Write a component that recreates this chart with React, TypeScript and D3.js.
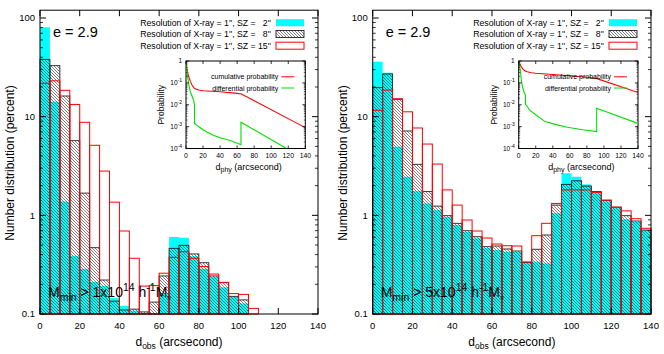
import React from "react";
import * as d3 from "d3";

const W = 664;
const H = 354;
const FONT = "'Liberation Sans', Arial, Helvetica, sans-serif";

// left edge of each 5 arcsec bin
const binStarts = [0, 5, 10, 15, 20, 25, 30, 35, 40, 45, 50, 55, 60, 65, 70, 75, 80, 85, 90, 95, 100, 105, 110, 115, 120, 125, 130, 135];

// M_min > 1e14 (left panel), percent per bin
const lowSZ2 = [80.5, 14.2, 1.38, 0.387, 0.286, 0.211, 0.192, 0.145, 0.121, 0.108, 0, 0, 0.163, 0.603, 0.593, 0.385, 0.288, 0.237, 0.186, 0.15, 0.128];
const lowSZ8 = [38.1, 32.9, 16.2, 5.71, 1.68, 0.47, 0.221, 0.135, 0.11, 0.112, 0.105, 0.132, 0.243, 0.463, 0.497, 0.406, 0.331, 0.243, 0.209, 0.151, 0.139];
const lowSZ15 = [21.8, 23.1, 18.5, 13.3, 8.77, 5.13, 2.81, 1.36, 0.694, 0.367, 0.192, 0.194, 0.259, 0.375, 0.428, 0.367, 0.303, 0.254, 0.209, 0.161, 0.158, 0.114];

// M_min > 5e14 (right panel)
const highSZ2 = [36.1, 27.9, 4.96, 2.46, 1.76, 1.32, 1.13, 0.962, 0.798, 0.678, 0.585, 0.467, 0.445, 0.428, 0.425, 0.333, 0.339, 0.326, 1.05, 2.67, 2.46, 2.06, 1.67, 1.38, 1.18, 0.912, 0.856, 0.71];
const highSZ8 = [19.7, 27.1, 15.0, 7.16, 3.29, 1.74, 1.24, 0.992, 0.83, 0.698, 0.607, 0.481, 0.489, 0.456, 0.435, 0.334, 0.453, 0.632, 1.27, 2.06, 2.24, 1.98, 1.74, 1.41, 1.21, 0.992, 0.876, 0.71];
const highSZ15 = [11.6, 18.6, 15.2, 11.2, 7.68, 5.28, 3.31, 1.81, 1.27, 0.897, 0.694, 0.589, 0.512, 0.492, 0.489, 0.337, 0.622, 0.83, 1.32, 1.81, 1.81, 1.81, 1.7, 1.43, 1.21, 1.11, 0.925, 0.739];

// inset curves: d_phy (arcsec) and probability
const lowCumD = [0, 0.5, 1, 2, 3, 5, 7, 10, 15, 20, 40, 60, 65, 140];
const lowCumP = [1, 0.6, 0.45, 0.3, 0.2, 0.12, 0.08, 0.055, 0.047, 0.044, 0.039, 0.033, 0.031, 0.0009];
const lowDiffD = [0, 1, 2, 3, 4.7, 7, 9, 10, 10, 12, 16, 20, 25, 32, 40, 52, 64.5, 64.5, 118];
const lowDiffP = [1, 0.4, 0.18, 0.1, 0.044, 0.025, 0.0155, 0.01, 0.0014, 0.0012, 0.00093, 0.00072, 0.00055, 0.0004, 0.00031, 0.00023, 0.00015, 0.0016, 0.0001];
const highCumD = [0, 1, 2, 3, 5, 7, 10, 15, 20, 40, 60, 80, 91, 140];
const highCumP = [1, 0.78, 0.66, 0.55, 0.43, 0.36, 0.32, 0.29, 0.275, 0.24, 0.21, 0.18, 0.16, 0.036];
const highDiffD = [0, 1, 2, 3, 4, 5, 6.5, 7.9, 7.9, 10, 12.5, 20, 31, 45, 57, 75, 91.5, 91.5, 140];
const highDiffP = [1, 0.6, 0.35, 0.15, 0.08, 0.055, 0.035, 0.028, 0.0105, 0.0085, 0.0058, 0.0035, 0.0017, 0.0012, 0.00093, 0.00072, 0.00059, 0.0069, 0.0014];

const legendLabels = [
  "Resolution of X-ray = 1'', SZ =   2''",
  "Resolution of X-ray = 1'', SZ =   8''",
  "Resolution of X-ray = 1'', SZ = 15''",
];
const xTicks = [0, 20, 40, 60, 80, 100, 120, 140];
const yTicks = [0.1, 1, 10, 100];
const yTickLabels = ["0.1", "1", "10", "100"];
const insetYTicks = [1e-4, 1e-3, 1e-2, 1e-1, 1];
const insetYExp = ["-4", "-3", "-2", "-1", ""];

const CYAN = "#00ffff";
const RED = "#ff0000";
const GREEN = "#00e000";

function Panel({ left, right, sz2, sz8, sz15, cumD, cumP, diffD, diffP, massMant, id }) {
  const top = 10.2;
  const bottom = 314;
  const x = d3.scaleLinear().domain([0, 140]).range([left, right]);
  const y = d3.scaleLog().domain([0.1, 120]).range([bottom, top]);

  const boxes = (vals: number[]) =>
    vals
      .map((v, i) => ({ v, i }))
      .filter((d) => d.v > 0.1)
      .map((d) => ({
        x: x(binStarts[d.i]),
        w: x(binStarts[d.i] + 5) - x(binStarts[d.i]),
        y: y(d.v),
        h: bottom - y(d.v),
      }));

  const minor: number[] = [];
  [0.1, 1, 10, 100].forEach((dec) => {
    for (let m = 2; m <= 9; m++) if (dec * m <= 120) minor.push(dec * m);
  });

  // inset
  const il = left + 146;
  const ir = left + 265.3;
  const it = 61;
  const ib = 148.5;
  const ix = d3.scaleLinear().domain([0, 140]).range([il, ir]);
  const iy = d3.scaleLog().domain([1e-4, 1]).range([ib, it]);
  const path = (ds: number[], ps: number[]) =>
    d3.line<number>().x((d) => ix(d)).y((_, i) => iy(ps[i]))(ds);
  const iminor: number[] = [];
  [1e-4, 1e-3, 1e-2, 1e-1].forEach((dec) => {
    for (let m = 2; m <= 9; m++) iminor.push(dec * m);
  });

  const kx0 = right - 42;
  const kx1 = right - 14;
  const legY = [22.7, 34, 45.7];

  return (
    <g fontFamily={FONT}>
      <defs>
        <clipPath id={"clip" + id}>
          <rect x={il} y={it} width={ir - il} height={ib - it} />
        </clipPath>
      </defs>
      {/* histograms */}
      {boxes(sz2).map((b, i) => (
        <rect key={"c" + i} x={b.x} y={b.y} width={b.w} height={b.h} fill={CYAN} />
      ))}
      {boxes(sz8).map((b, i) => (
        <rect key={"h" + i} x={b.x} y={b.y} width={b.w} height={b.h} fill="url(#hatch)" stroke="#222" strokeWidth={0.9} />
      ))}
      {boxes(sz15).map((b, i) => (
        <rect key={"r" + i} x={b.x} y={b.y} width={b.w} height={b.h} fill="none" stroke={RED} strokeWidth={1} />
      ))}

      {/* frame & ticks */}
      <rect x={left} y={top} width={right - left} height={bottom - top} fill="none" stroke="#000" strokeWidth={1} />
      {yTicks.map((t) => (
        <g key={"yt" + t}>
          <line x1={left} x2={left + 6} y1={y(t)} y2={y(t)} stroke="#000" />
          <line x1={right} x2={right - 6} y1={y(t)} y2={y(t)} stroke="#000" />
        </g>
      ))}
      {minor.map((t) => (
        <g key={"ym" + t}>
          <line x1={left} x2={left + 3} y1={y(t)} y2={y(t)} stroke="#000" strokeWidth={0.8} />
          <line x1={right} x2={right - 3} y1={y(t)} y2={y(t)} stroke="#000" strokeWidth={0.8} />
        </g>
      ))}
      {xTicks.map((t) => (
        <g key={"xt" + t}>
          <line x1={x(t)} x2={x(t)} y1={bottom} y2={bottom - 6} stroke="#000" />
          <line x1={x(t)} x2={x(t)} y1={top} y2={top + 6} stroke="#000" />
          <text x={x(t)} y={329} fontSize={9.5} textAnchor="middle">{t}</text>
        </g>
      ))}
      {yTicks.map((t, i) => (
        <text key={"yl" + t} x={left - 5} y={y(t) + 3.4} fontSize={9.5} textAnchor="end">{yTickLabels[i]}</text>
      ))}
      <text x={(left + right) / 2} y={346} fontSize={12} textAnchor="middle">
        d<tspan dy={3} fontSize={8.5}>obs</tspan><tspan dy={-3}> (arcsecond)</tspan>
      </text>
      <text transform={`translate(${left - 26},163) rotate(-90)`} fontSize={12} textAnchor="middle">
        Number distribution (percent)
      </text>

      {/* annotations */}
      <text x={left + 13} y={37} fontSize={14.5}>e = 2.9</text>
      <text x={left + 8} y={297} fontSize={14}>
        M<tspan dy={3.5} fontSize={10.5}>min</tspan>
        <tspan dy={-3.5}> &gt; {massMant}x10</tspan>
        <tspan dy={-6} fontSize={10.5}>14</tspan>
        <tspan dy={6}> h</tspan>
        <tspan dy={-6} fontSize={10.5}>-1</tspan>
        <tspan dy={6}>M</tspan>
        <tspan dy={2} fontSize={5}>⊙</tspan>
      </text>

      {/* legend */}
      {legendLabels.map((l, i) => (
        <text key={"lg" + i} x={kx0 - 5} y={legY[i] + 3.1} fontSize={8.7} textAnchor="end" style={{ whiteSpace: "pre" }}>
          {l}
        </text>
      ))}
      <rect x={kx0} y={legY[0] - 3.5} width={kx1 - kx0} height={7} fill={CYAN} />
      <rect x={kx0} y={legY[1] - 3.5} width={kx1 - kx0} height={7} fill="url(#hatch)" stroke="#222" strokeWidth={0.9} />
      <rect x={kx0} y={legY[2] - 3.5} width={kx1 - kx0} height={7} fill="#fff" stroke={RED} strokeWidth={1} />

      {/* inset */}
      <rect x={il} y={it} width={ir - il} height={ib - it} fill="#fff" stroke="#000" strokeWidth={1} />
      <g clipPath={`url(#clip${id})`}>
        <path d={path(cumD, cumP) || ""} fill="none" stroke={RED} strokeWidth={1.1} />
        <path d={path(diffD, diffP) || ""} fill="none" stroke={GREEN} strokeWidth={1.1} />
      </g>
      {insetYTicks.map((t, i) => (
        <g key={"iy" + i}>
          <line x1={il} x2={il + 3} y1={iy(t)} y2={iy(t)} stroke="#000" strokeWidth={0.8} />
          <line x1={ir} x2={ir - 3} y1={iy(t)} y2={iy(t)} stroke="#000" strokeWidth={0.8} />
          {insetYExp[i] === "" ? (
            <text x={il - 4} y={iy(t) + 2.3} fontSize={6.5} textAnchor="end">1</text>
          ) : (
            <text x={il - 4} y={iy(t) + 2.3} fontSize={6.5} textAnchor="end">
              10<tspan dy={-3} fontSize={5}>{insetYExp[i]}</tspan>
            </text>
          )}
        </g>
      ))}
      {iminor.map((t, i) => (
        <g key={"im" + i}>
          <line x1={il} x2={il + 1.5} y1={iy(t)} y2={iy(t)} stroke="#000" strokeWidth={0.6} />
          <line x1={ir} x2={ir - 1.5} y1={iy(t)} y2={iy(t)} stroke="#000" strokeWidth={0.6} />
        </g>
      ))}
      {xTicks.map((t) => (
        <g key={"ix" + t}>
          <line x1={ix(t)} x2={ix(t)} y1={ib} y2={ib - 3} stroke="#000" strokeWidth={0.8} />
          <line x1={ix(t)} x2={ix(t)} y1={it} y2={it + 3} stroke="#000" strokeWidth={0.8} />
          <text x={ix(t)} y={157.5} fontSize={6.8} textAnchor="middle">{t}</text>
        </g>
      ))}
      <text x={(il + ir) / 2 + 3} y={169.5} fontSize={9}>
        <tspan textAnchor="middle">
          d<tspan dy={2.5} fontSize={7}>phy</tspan><tspan dy={-2.5}> (arcsecond)</tspan>
        </tspan>
      </text>
      <text transform={`translate(${il - 22},${(it + ib) / 2}) rotate(-90)`} fontSize={8.5} textAnchor="middle">
        Probability
      </text>
      <text x={ir - 27} y={79.3} fontSize={7} textAnchor="end">cumulative probability</text>
      <line x1={ir - 24} x2={ir - 11} y1={76.8} y2={76.8} stroke={RED} strokeWidth={1} />
      <text x={ir - 27} y={90.5} fontSize={7} textAnchor="end">differential probability</text>
      <line x1={ir - 24} x2={ir - 11} y1={88} y2={88} stroke={GREEN} strokeWidth={1} />
    </g>
  );
}

export default function App() {
  return (
    <svg width={W} height={H} style={{ position: "absolute", left: 0, top: 0, background: "#fff" }}>
      <defs>
        <pattern id="hatch" patternUnits="userSpaceOnUse" width={3} height={3}>
          <path d="M-1,-1 L4,4 M-1,2 L1,4 M2,-1 L4,1" stroke="#000" strokeWidth={0.7} strokeOpacity={0.7} />
        </pattern>
      </defs>
      <Panel id="L" left={40} right={318} sz2={lowSZ2} sz8={lowSZ8} sz15={lowSZ15}
        cumD={lowCumD} cumP={lowCumP} diffD={lowDiffD} diffP={lowDiffP} massMant="1" />
      <Panel id="R" left={372.7} right={651} sz2={highSZ2} sz8={highSZ8} sz15={highSZ15}
        cumD={highCumD} cumP={highCumP} diffD={highDiffD} diffP={highDiffP} massMant="5" />
    </svg>
  );
}
